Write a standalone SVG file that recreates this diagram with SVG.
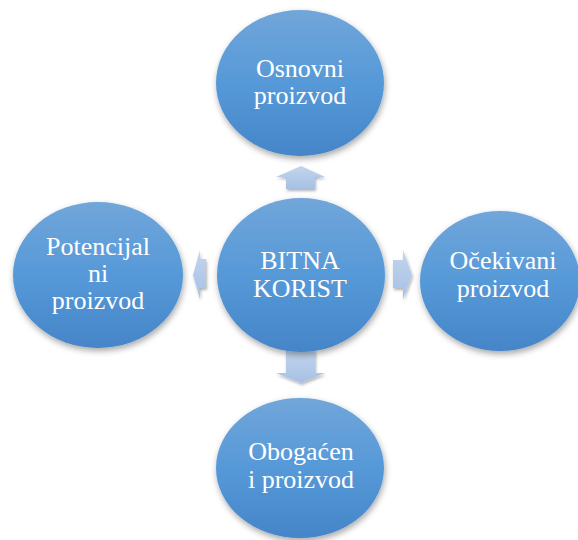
<svg xmlns="http://www.w3.org/2000/svg" width="578" height="540" viewBox="0 0 578 540">
<defs>
<linearGradient id="g" x1="0" y1="0" x2="0" y2="1">
<stop offset="0" stop-color="#71a6da"/>
<stop offset="0.5" stop-color="#5699d8"/>
<stop offset="1" stop-color="#4585c8"/>
</linearGradient>
<linearGradient id="ga" x1="0" y1="0" x2="0" y2="1">
<stop offset="0" stop-color="#c3d5ee"/>
<stop offset="1" stop-color="#a6c0e4"/>
</linearGradient>
<filter id="sh" x="-20%" y="-20%" width="140%" height="140%">
<feDropShadow dx="1" dy="3" stdDeviation="3" flood-color="#000" flood-opacity="0.35"/>
</filter>
<filter id="sha" x="-40%" y="-40%" width="180%" height="180%">
<feDropShadow dx="1" dy="2" stdDeviation="1.5" flood-color="#000" flood-opacity="0.3"/>
</filter>
</defs>
<style>
.n{fill:url(#g);filter:url(#sh)}
.a{fill:url(#ga);filter:url(#sha)}
.t{font-family:'Liberation Serif','DejaVu Serif',serif;font-size:26px;fill:#fff;text-anchor:middle}
</style>
<g id="connectors">
<polygon class="a" points="301,166 325,177 315,177 315,189 286,189 286,177 276,177"/>
<polygon class="a" points="286,350 315,350 315,373 325,373 301,383 276,373 286,373"/>
<polygon class="a" points="193,275 200,250 200,259 206,259 206,288 200,288 200,299"/>
<polygon class="a" points="393,260 403,260 403,250 412,275 403,299 403,288 393,288"/>
</g>
<g id="top">
<ellipse class="n" cx="300" cy="83" rx="84" ry="73"/>
<text class="t" font-family="Liberation Serif, serif" x="300" y="77">Osnovni</text>
<text class="t" font-family="Liberation Serif, serif" x="300" y="104">proizvod</text>
</g>
<g id="center">
<ellipse class="n" cx="301" cy="275" rx="84" ry="77"/>
<text class="t" font-family="Liberation Serif, serif" x="300" y="269">BITNA</text>
<text class="t" font-family="Liberation Serif, serif" x="300" y="297">KORIST</text>
</g>
<g id="left">
<ellipse class="n" cx="98" cy="275" rx="85" ry="73"/>
<text class="t" font-family="Liberation Serif, serif" x="98" y="255">Potencijal</text>
<text class="t" font-family="Liberation Serif, serif" x="98" y="282">ni</text>
<text class="t" font-family="Liberation Serif, serif" x="98" y="309">proizvod</text>
</g>
<g id="right">
<ellipse class="n" cx="500" cy="281" rx="80" ry="70"/>
<text class="t" font-family="Liberation Serif, serif" x="503" y="269">Očekivani</text>
<text class="t" font-family="Liberation Serif, serif" x="503" y="297">proizvod</text>
</g>
<g id="bottom">
<ellipse class="n" cx="300" cy="468" rx="84" ry="70"/>
<text class="t" font-family="Liberation Serif, serif" x="301" y="460">Obogaćen</text>
<text class="t" font-family="Liberation Serif, serif" x="301" y="488">i proizvod</text>
</g>
</svg>
